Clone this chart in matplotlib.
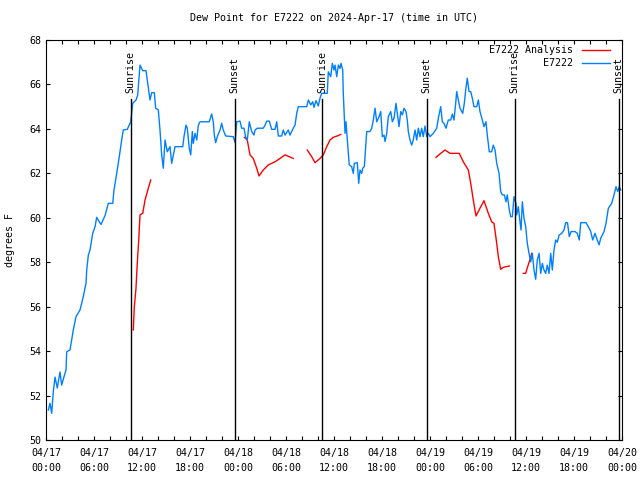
import pandas as pd
import numpy as np
import matplotlib
matplotlib.use("Agg")
import matplotlib.pyplot as plt
import matplotlib.dates as mdates

plt.rcParams['font.family'] = 'DejaVu Sans Mono'
plt.rcParams['font.size'] = 7.2

start = pd.Timestamp("2024-04-17 00:00")

# E7222 observations (hours since 04/17 00:00 UTC, deg F)
obs_hours = [0.29, 0.5, 0.71, 0.91, 1.13, 1.41, 1.75, 1.96, 2.25, 2.5, 2.59, 3.0, 3.41, 3.75,
             4.25, 4.66, 5.0, 5.09, 5.29, 5.5, 5.84, 6.13, 6.34, 6.66, 6.88, 7.38, 7.79, 8.34,
             8.5, 8.84, 9.16, 9.46, 9.66, 10.16, 10.59, 10.84, 11.25, 11.46, 11.75, 12.09, 12.5,
             12.71, 13.0, 13.21, 13.54, 13.71, 14.04, 14.25, 14.46, 14.66, 14.88, 15.16, 15.5,
             15.71, 16.13, 17.09, 17.25, 17.5, 17.66, 17.91, 18.09, 18.29, 18.41, 18.63, 18.84,
             19.04, 19.25, 20.41, 20.71, 20.91, 21.04, 21.21, 21.41, 21.75, 21.96, 22.16, 22.46,
             23.41, 23.63, 23.84, 24.25, 24.46, 24.75, 24.96, 25.16, 25.41, 25.71, 26.0, 26.13,
             26.41, 27.16, 27.38, 27.59, 27.91, 28.21, 28.63, 28.84, 29.04, 29.46, 29.66, 29.88,
             30.29, 30.5, 30.91, 31.13, 31.34, 31.54, 32.59, 32.79, 33.09, 33.34, 33.5, 33.75,
             34.04, 34.25, 34.46, 35.16, 35.29, 35.59, 35.79, 36.0, 36.13, 36.34, 36.54, 36.75,
             36.88, 37.09, 37.16, 37.38, 37.5, 37.66, 37.79, 37.91, 38.21, 38.41, 38.54, 38.91,
             39.09, 39.25, 39.46, 39.59, 39.79, 39.96, 40.09, 40.5, 40.71, 40.91, 41.13, 41.34,
             41.63, 41.84, 42.04, 42.25, 42.38, 42.59, 42.79, 43.09, 43.29, 43.5, 43.75, 43.91,
             44.13, 44.34, 44.54, 44.75, 45.0, 45.16, 45.29, 45.5, 45.71, 45.91, 46.13, 46.34,
             46.54, 46.75, 46.96, 47.16, 47.38, 47.59, 47.79, 48.0, 48.41, 48.84, 49.04, 49.34,
             49.54, 49.75, 50.0, 50.29, 50.59, 50.79, 51.0, 51.21, 51.34, 51.54, 51.75, 52.09,
             52.29, 52.46, 52.66, 52.88, 53.09, 53.29, 53.5, 53.84, 54.04, 54.25, 54.54, 54.75,
             55.0, 55.16, 55.41, 55.71, 55.91, 56.13, 56.34, 56.63, 56.84, 57.04, 57.29, 57.5,
             57.66, 57.91, 58.09, 58.29, 58.5, 58.75, 58.84, 59.04, 59.25, 59.38, 59.54, 59.75,
             59.96, 60.16, 60.38, 60.59, 60.79, 61.0, 61.21, 61.41, 61.63, 61.84, 62.04, 62.25,
             62.46, 62.66, 62.88, 63.09, 63.29, 63.5, 63.71, 63.91, 64.13, 64.46, 64.75, 64.96,
             65.19, 65.41, 65.63, 66.13, 66.41, 66.66, 66.84, 67.5, 67.79, 68.09, 68.34, 68.63,
             68.91, 69.13, 69.34, 69.75, 70.0, 70.29, 70.71, 71.0, 71.25, 71.46, 71.66, 71.84]
obs_values = [51.35, 51.65, 51.2, 52.17, 52.83, 52.34, 53.06, 52.47, 52.85, 53.15, 53.97, 54.05,
              54.95, 55.55, 55.85, 56.45, 57.05, 57.65, 58.32, 58.55, 59.3, 59.6, 60.02, 59.82,
              59.7, 60.1, 60.65, 60.65, 61.25, 62.0, 62.75, 63.5, 63.95, 63.98, 64.32, 65.15,
              65.3, 65.52, 66.87, 66.62, 66.62, 66.05, 65.3, 65.63, 65.63, 64.93, 64.85, 63.95,
              62.83, 62.23, 63.5, 62.97, 63.2, 62.45, 63.2, 63.2, 63.65, 64.17, 64.03, 63.12,
              62.83, 63.88, 63.35, 63.8, 63.5, 64.17, 64.32, 64.32, 64.67, 64.32, 63.72, 63.38,
              63.65, 63.95, 64.25, 63.95, 63.68, 63.65, 63.38, 64.32, 64.35, 64.03, 64.03, 63.62,
              63.5, 64.32, 63.88, 63.72, 63.95, 64.03, 64.03, 64.17, 64.35, 64.35, 63.98, 63.98,
              64.32, 63.68, 63.68, 63.95, 63.72, 63.95, 63.72, 64.03, 64.17, 64.7, 65.0, 65.0,
              65.3, 65.08, 65.22, 64.97, 65.27, 65.03, 65.38, 65.6, 65.6, 66.57, 66.35, 66.95,
              66.65, 66.87, 66.35, 66.87, 66.72, 66.95, 66.65, 65.6, 63.8, 64.32, 63.5, 62.9,
              62.38, 62.3, 62.0, 62.45, 62.48, 61.55, 62.15, 62.0, 62.23, 62.3, 63.2, 63.88,
              63.88, 64.03, 64.4, 64.93, 64.32, 64.55, 64.78, 63.65, 63.72, 63.43, 63.8, 64.55,
              64.78, 64.32, 64.48, 65.15, 64.7, 64.1, 64.78, 64.63, 64.93, 64.78, 64.4, 63.88,
              63.5, 63.27, 63.5, 63.95, 63.5, 64.03, 63.65, 64.03, 63.65, 64.13, 63.65, 63.8,
              63.65, 63.8, 64.03, 64.48, 65.0, 64.32, 64.25, 64.03, 64.4, 64.4, 64.67, 64.4,
              65.15, 65.68, 65.3, 64.93, 64.7, 65.15, 65.75, 66.28, 65.68, 65.68, 65.38, 65.0,
              65.0, 65.3, 64.78, 64.4, 64.1, 64.32, 63.72, 62.97, 62.97, 63.27, 63.05, 62.45,
              62.0, 61.18, 61.03, 61.03, 60.72, 61.03, 60.35, 60.05, 60.05, 60.95, 60.65, 60.13,
              60.5, 59.82, 59.45, 60.72, 59.98, 59.6, 58.85, 58.4, 58.02, 58.4, 57.65, 57.23,
              58.1, 58.4, 57.5, 57.95, 57.65, 57.5, 57.87, 57.5, 58.4, 57.65, 58.55, 59.0, 58.9,
              59.22, 59.3, 59.45, 59.78, 59.78, 59.15, 59.38, 59.38, 59.3, 59.0, 59.78, 59.78,
              59.6, 59.38, 59.0, 59.3, 59.0, 58.78, 59.08, 59.38, 59.75, 60.42, 60.65, 61.03,
              61.4, 61.18, 61.4, 61.25]

# E7222 Analysis (NaN = gap)
ana_hours = [10.91, 11.04, 11.25, 11.34, 11.46, 11.59, 11.75, 12.09, 12.38, 12.66, 13.09, 13.5,
             24.79, 25.16, 25.5, 25.91, 26.34, 26.63, 27.16, 27.79, 28.63, 29.25, 29.88, 30.91, 31.5,
             32.66, 33.21, 33.63, 34.25, 34.66, 35.09, 35.5, 35.91, 36.54, 36.84, 37.5,
             48.75, 49.34, 49.88, 50.5, 51.66, 52.16, 52.79, 53.09, 53.41, 53.75, 54.25, 54.75,
             55.29, 55.71, 56.0, 56.34, 56.54, 56.84, 57.16, 57.91, 58.5,
             59.66, 59.96, 60.21, 60.5, 60.71]
ana_values = [54.95, 56.0, 56.83, 57.5, 58.25, 59.0, 60.13, 60.2, 60.8, 61.17, 61.7, np.nan,
              63.62, 63.5, 62.83, 62.67, 62.23, 61.88, 62.15, 62.38, 62.52, 62.67, 62.83, 62.67, np.nan,
              63.05, 62.75, 62.48, 62.67, 62.83, 63.2, 63.5, 63.62, 63.7, 63.75, np.nan,
              62.72, 62.9, 63.05, 62.9, 62.9, 62.52, 62.15, 61.55, 60.8, 60.08, 60.43, 60.77,
              60.2, 59.82, 59.75, 58.85, 58.25, 57.68, 57.77, 57.83, np.nan,
              57.5, 57.5, 57.8, 58.13, 58.4]

# sunrise / sunset (hours since start)
sun_hours = [10.6, 23.6, 34.5, 47.6, 58.6, 71.6]
sun_labels = ["Sunrise", "Sunset", "Sunrise", "Sunset", "Sunrise", "Sunset"]
sun_top = 65.35

obs_t = start + pd.to_timedelta(obs_hours, unit="h")
ana_t = start + pd.to_timedelta(ana_hours, unit="h")
sun_t = start + pd.to_timedelta(sun_hours, unit="h")

fig = plt.figure(figsize=(6.4, 4.8), dpi=100)
ax = fig.add_axes([46 / 640, 40 / 480, 576 / 640, 400 / 480])

ax.plot(ana_t, ana_values, color='#ff0000', linewidth=1)
ax.plot(obs_t, obs_values, color='#0080ff', linewidth=1)

for t, lab in zip(sun_t, sun_labels):
    ax.plot([t, t], [50, sun_top], color='black', linewidth=1)
    ax.text(t, sun_top + 0.25, lab, rotation=90, ha='center', va='bottom')

ax.set_xlim(start, start + pd.Timedelta(hours=72))
ax.set_ylim(50, 68)
ax.xaxis.set_major_locator(mdates.HourLocator(byhour=[0, 6, 12, 18]))
ax.xaxis.set_minor_locator(mdates.HourLocator(byhour=range(0, 24, 2)))
ax.xaxis.set_major_formatter(mdates.DateFormatter("%m/%d\n%H:%M"))
ax.set_yticks(range(50, 69, 2))
ax.tick_params(which='both', direction='in', length=3, width=0.8, top=True, right=True)
ax.tick_params(axis='x', pad=6)
for lbl in ax.get_xticklabels():
    lbl.set_linespacing(1.6)

ax.set_title("Dew Point for E7222 on 2024-Apr-17 (time in UTC)", fontsize=7.2, pad=14)
ax.set_ylabel("degrees F", labelpad=10)

# gnuplot-style key: text then line sample
ax.text(0.915, 0.975, "E7222 Analysis", transform=ax.transAxes, ha='right', va='center')
ax.plot([0.930, 0.979], [0.975, 0.975], transform=ax.transAxes, color='#ff0000', linewidth=1)
ax.text(0.915, 0.943, "E7222", transform=ax.transAxes, ha='right', va='center')
ax.plot([0.930, 0.979], [0.943, 0.943], transform=ax.transAxes, color='#0080ff', linewidth=1)

fig.savefig("out.png", dpi=100)
